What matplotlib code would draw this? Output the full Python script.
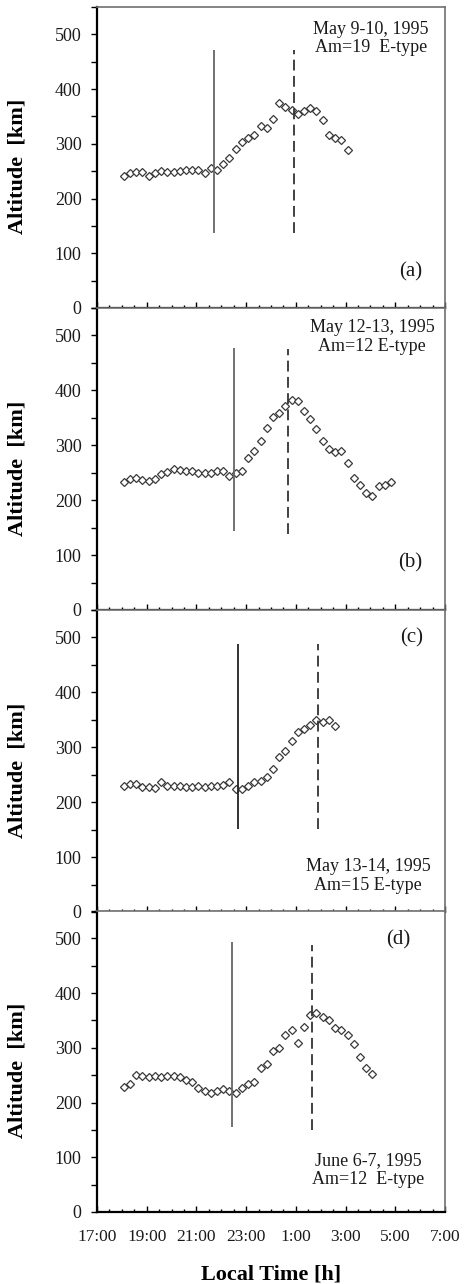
import numpy as np
import matplotlib
matplotlib.use("Agg")
import matplotlib.pyplot as plt
from matplotlib.ticker import MultipleLocator, FixedLocator, FixedFormatter

plt.rcParams["font.family"] = ["Liberation Serif", "DejaVu Serif"]

# ── data (local time in hours, 25 = 1:00 next day) ──────────────────────────
time_a = [18.08, 18.33, 18.58, 18.83, 19.08, 19.33, 19.58, 19.83, 20.08, 20.33,
          20.58, 20.83, 21.08, 21.33, 21.58, 21.83, 22.08, 22.33, 22.58, 22.83,
          23.08, 23.33, 23.58, 23.83, 24.08, 24.33, 24.58, 24.83, 25.08, 25.33,
          25.58, 25.83, 26.08, 26.33, 26.58, 26.83, 27.08]
alt_a = [241, 246, 248, 248, 242, 246, 251, 248, 248, 251,
         252, 252, 253, 247, 255, 252, 263, 274, 290, 304,
         311, 316, 333, 328, 346, 374, 368, 361, 355, 360,
         366, 360, 344, 317, 310, 307, 289]

time_b = [18.08, 18.33, 18.58, 18.83, 19.08, 19.33, 19.58, 19.83, 20.08, 20.33,
          20.58, 20.83, 21.08, 21.33, 21.58, 21.83, 22.08, 22.33, 22.58, 22.83,
          23.08, 23.33, 23.58, 23.83, 24.08, 24.33, 24.58, 24.83, 25.08, 25.33,
          25.58, 25.83, 26.08, 26.33, 26.58, 26.83, 27.08, 27.33, 27.58, 27.83,
          28.08, 28.33, 28.58, 28.83]
alt_b = [234, 238, 241, 237, 235, 238, 248, 252, 256, 255,
         253, 253, 250, 250, 250, 253, 253, 244, 250, 253,
         277, 290, 307, 331, 352, 359, 371, 383, 380, 362,
         347, 329, 307, 294, 287, 290, 268, 241, 227, 213,
         207, 225, 227, 233]

time_c = [18.08, 18.33, 18.58, 18.83, 19.08, 19.33, 19.58, 19.83, 20.08, 20.33,
          20.58, 20.83, 21.08, 21.33, 21.58, 21.83, 22.08, 22.33, 22.58, 22.83,
          23.08, 23.33, 23.58, 23.83, 24.08, 24.33, 24.58, 24.83, 25.08, 25.33,
          25.58, 25.83, 26.08, 26.33, 26.58]
alt_c = [230, 234, 233, 228, 228, 225, 236, 229, 230, 230,
         228, 228, 230, 228, 230, 229, 231, 236, 224, 224,
         229, 236, 239, 245, 261, 283, 293, 311, 327, 333,
         341, 350, 346, 350, 338]

time_d = [18.08, 18.33, 18.58, 18.83, 19.08, 19.33, 19.58, 19.83, 20.08, 20.33,
          20.58, 20.83, 21.08, 21.33, 21.58, 21.83, 22.08, 22.33, 22.58, 22.83,
          23.08, 23.33, 23.58, 23.83, 24.08, 24.33, 24.58, 24.83, 25.08, 25.33,
          25.58, 25.83, 26.08, 26.33, 26.58, 26.83, 27.08, 27.33, 27.58, 27.83,
          28.08]
alt_d = [229, 234, 250, 249, 247, 248, 247, 248, 249, 247,
         242, 237, 227, 221, 217, 222, 224, 221, 218, 226,
         234, 237, 263, 270, 294, 300, 324, 333, 308, 338,
         360, 363, 356, 351, 337, 333, 324, 307, 283, 263,
         252]

# vertical markers: (solid x, dashed x, solid ymin, solid ymax, dashed ymin, dashed ymax)
solid_x = [21.72, 22.51, 22.68, 22.44]
dashed_x = [24.92, 24.68, 25.90, 25.63]
solid_span = [(137, 472), (143, 478), (152, 488), (156, 494)]
dashed_span = [(137, 472), (139, 475), (152, 488), (150, 488)]

labels = ["(a)", "(b)", "(c)", "(d)"]
notes = ["May 9-10, 1995\nAm=19  E-type",
         "May 12-13, 1995\nAm=12 E-type",
         "May 13-14, 1995\nAm=15 E-type",
         "June 6-7, 1995\nAm=12  E-type"]

xtick_pos = [17, 19, 21, 23, 25, 27, 29, 31]
xtick_lab = ["17:00", "19:00", "21:00", "23:00", "1:00", "3:00", "5:00", "7:00"]

# ── layout (pixel positions of each panel on a 465 x 1284 canvas) ──────────
W, H = 465, 1284
left_px, right_px = 97, 445
panel_px = [(7, 308), (308, 610), (610, 912), (911, 1212)]
note_pos = [(0.787, 0.955), (0.79, 0.965), (0.779, 0.178), (0.779, 0.2)]
lab_pos = [(0.902, 0.12), (0.9, 0.156), (0.905, 0.907), (0.865, 0.904)]
solid_col = ["#666666", "#666666", "#222222", "#666666"]

series = [(time_a, alt_a), (time_b, alt_b), (time_c, alt_c), (time_d, alt_d)]

fig = plt.figure(figsize=(W / 100, H / 100), dpi=100)
TXT = "#1a1a1a"

for i, (t, a) in enumerate(series):
    top, bot = panel_px[i]
    ax = fig.add_axes([left_px / W, 1 - bot / H, (right_px - left_px) / W, (bot - top) / H])

    ax.plot(t, a, linestyle="none", marker="D", markersize=3.6,
            markerfacecolor="white", markeredgecolor="#3a3a3a", markeredgewidth=0.9)
    ax.vlines(solid_x[i], *solid_span[i], colors=solid_col[i], linewidth=1.3)
    ax.vlines(dashed_x[i], *dashed_span[i], colors="#333333", linewidth=1.3,
              linestyles=(0, (6, 3)))

    ax.set_xlim(17, 31)
    ax.set_ylim(0, 550)

    # y axis: outward ticks, minor every 50
    ax.yaxis.set_major_locator(FixedLocator([0, 100, 200, 300, 400, 500]))
    ax.yaxis.set_minor_locator(MultipleLocator(50))
    ax.tick_params(axis="y", which="both", direction="out", length=4, width=1,
                   labelsize=13, pad=7, labelcolor=TXT)

    # x axis: inward ticks, 2 h major / 30 min minor
    ax.xaxis.set_major_locator(FixedLocator(xtick_pos))
    ax.xaxis.set_minor_locator(MultipleLocator(0.5))
    ax.tick_params(axis="x", which="major", direction="in", length=4, width=1,
                   labelsize=12.5, pad=12, labelcolor=TXT)
    ax.tick_params(axis="x", which="minor", direction="in", length=2.5, width=1)
    if i == 3:
        ax.xaxis.set_major_formatter(FixedFormatter(xtick_lab))
        ax.set_xlabel("Local Time [h]", fontsize=16, fontweight="bold", labelpad=14)
    else:
        ax.set_xticklabels([])

    for side in ("left", "bottom"):
        ax.spines[side].set_linewidth(1.6)
        ax.spines[side].set_color("black")
    for side in ("top", "right"):
        ax.spines[side].set_linewidth(1.2)
        ax.spines[side].set_color("#707070")

    ax.set_ylabel("Altitude  [km]", fontsize=16, fontweight="bold")
    ax.yaxis.set_label_coords(-0.2, 0.47)

    ax.text(*note_pos[i], notes[i], transform=ax.transAxes, ha="center", va="top",
            fontsize=13, color=TXT, linespacing=1.15)
    ax.text(*lab_pos[i], labels[i], transform=ax.transAxes, ha="center", va="center",
            fontsize=15, color=TXT)

fig.savefig("out.png", dpi=100)
